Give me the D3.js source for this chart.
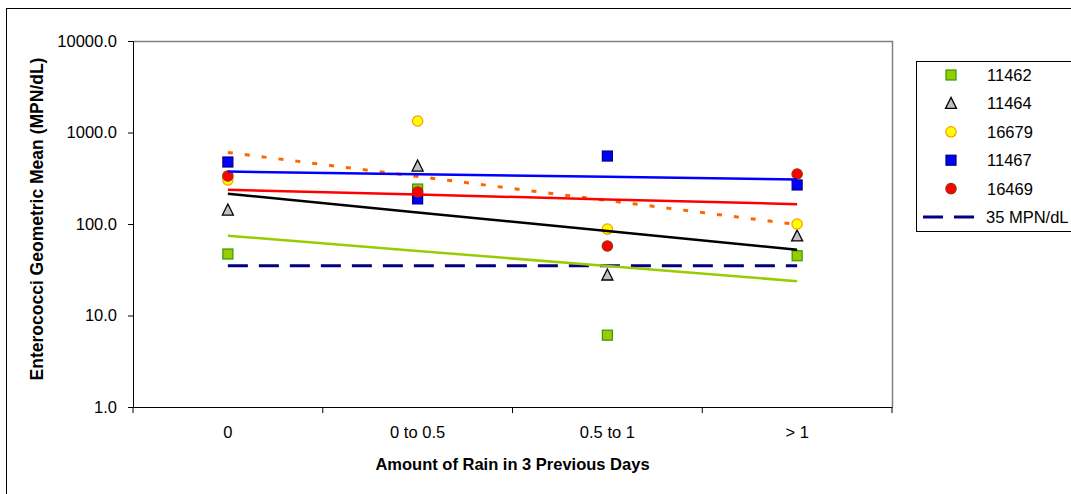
<!DOCTYPE html>
<html>
<head>
<meta charset="utf-8">
<script src="https://cdn.jsdelivr.net/npm/d3@7/dist/d3.min.js"></script>
<style>
  body { margin: 0; background: white; }
  text { font-family: "Liberation Sans", Arial, sans-serif; }
</style>
</head>
<body>
<script>
// values
const categories = ["0", "0 to 0.5", "0.5 to 1", "> 1"];
const stations = ["11462", "11464", "16679", "11467", "16469"];
const s11462 = [47, 241, 6.1, 45];
const s11464 = [142, 430, 27.7, 74];
const s16679 = [303, 1336, 88, 100];
const s11467 = [476, 188, 553, 267];
const s16469 = [335, 224, 57.5, 352];
const standard = [35, 35, 35, 35];
const yTicks = [1, 10, 100, 1000, 10000];

const allSeries = [s11462, s11464, s16679, s11467, s16469];

const looks = [
  { shape: "square", fill: "#99CC00", stroke: "#339900", trend: "#99CC00", dash: null },
  { shape: "triangle", fill: "#C0C0C0", stroke: "#000000", trend: "#000000", dash: null },
  { shape: "circle", fill: "#FFFF00", stroke: "#FF9900", trend: "#FF6600", dash: "5,12" },
  { shape: "square", fill: "#0000FF", stroke: "#000080", trend: "#0000FF", dash: null },
  { shape: "circle", fill: "#FF0000", stroke: "#993300", trend: "#FF0000", dash: null }
];

const svg = d3.select("body").append("svg")
  .attr("width", 1071)
  .attr("height", 494)
  .style("background-color", "white");

// outer chart frame (runs off the right and bottom edge)
svg.append("rect")
  .attr("x", 6.5).attr("y", 8.5)
  .attr("width", 1100).attr("height", 520)
  .attr("fill", "none").attr("stroke", "#000").attr("stroke-width", 1);

const plotL = 133, plotR = 892, plotT = 41, plotB = 407;

const x = d3.scaleBand().domain(categories).range([plotL, plotR]);
const y = d3.scaleLog().domain([1, 10000]).range([plotB, plotT]);
const cx = c => x(c) + x.bandwidth() / 2;

// plot area border (top & right grey)
svg.append("path")
  .attr("d", `M${plotL},${plotT + 0.5}H${plotR + 0.5}V${plotB}`)
  .attr("fill", "none").attr("stroke", "#808080").attr("stroke-width", 1.5);

// y axis
const yAxis = svg.append("g")
  .attr("transform", `translate(${plotL},0)`)
  .call(d3.axisLeft(y).tickValues(yTicks).tickFormat(d3.format(".1f"))
    .tickSize(5).tickSizeOuter(0).tickPadding(11));
yAxis.selectAll("text").attr("font-size", "16.5px").attr("fill", "#000")
  .attr("font-family", "'Liberation Sans', Arial, sans-serif");
yAxis.selectAll("line, path").attr("stroke", "#000");

// x axis (labels at band centres, ticks on band edges)
const xAxis = svg.append("g")
  .attr("transform", `translate(0,${plotB})`)
  .call(d3.axisBottom(x).tickSize(0).tickSizeOuter(0).tickPadding(19));
xAxis.selectAll("text").attr("font-size", "16.5px").attr("fill", "#000")
  .attr("font-family", "'Liberation Sans', Arial, sans-serif");
xAxis.select("path").attr("stroke", "#000");
xAxis.selectAll(".edge")
  .data(d3.range(categories.length + 1))
  .enter().append("line")
  .attr("class", "edge")
  .attr("x1", i => plotL + i * x.step()).attr("x2", i => plotL + i * x.step())
  .attr("y1", 0).attr("y2", 6)
  .attr("stroke", "#000");

// axis titles
svg.append("text")
  .attr("x", (plotL + plotR) / 2)
  .attr("y", 470)
  .attr("text-anchor", "middle")
  .attr("font-size", "16.5px")
  .attr("font-weight", "bold")
  .text("Amount of Rain in 3 Previous Days");

svg.append("text")
  .attr("transform", "translate(43,219) rotate(-90)")
  .attr("text-anchor", "middle")
  .attr("font-size", "17.5px")
  .attr("font-weight", "bold")
  .text("Enterococci Geometric Mean (MPN/dL)");

// 35 MPN/dL standard line
const line = d3.line().x((d, i) => cx(categories[i])).y(d => y(d));
svg.append("path")
  .datum(standard)
  .attr("d", line)
  .attr("fill", "none")
  .attr("stroke", "#000080")
  .attr("stroke-width", 3)
  .attr("stroke-dasharray", "20,11");

function marker(g, shape, fill, stroke) {
  if (shape === "square") {
    g.append("rect").attr("x", -5).attr("y", -5).attr("width", 10).attr("height", 10)
      .attr("fill", fill).attr("stroke", stroke).attr("stroke-width", 1.2);
  } else if (shape === "triangle") {
    g.append("path").attr("d", "M0,-6L5.5,5L-5.5,5Z")
      .attr("fill", fill).attr("stroke", stroke).attr("stroke-width", 1.3);
  } else {
    g.append("circle").attr("r", 5.2)
      .attr("fill", fill).attr("stroke", stroke).attr("stroke-width", 1.2);
  }
}

// points
allSeries.forEach((vals, k) => {
  const lk = looks[k];
  vals.forEach((v, i) => {
    const g = svg.append("g").attr("transform", `translate(${cx(categories[i])},${y(v)})`);
    marker(g, lk.shape, lk.fill, lk.stroke);
  });
});

// exponential trend lines (least squares on ln values, like the spreadsheet)
allSeries.forEach((vals, k) => {
  const xs = vals.map((v, i) => i + 1);
  const ls = vals.map(v => Math.log(v));
  const mx = d3.mean(xs), ml = d3.mean(ls);
  const b = d3.sum(xs, (xv, i) => (xv - mx) * (ls[i] - ml)) / d3.sum(xs, xv => (xv - mx) * (xv - mx));
  const a = ml - b * mx;
  const fit = xs.map(xv => Math.exp(a + b * xv));
  svg.append("path")
    .datum(fit)
    .attr("d", line)
    .attr("fill", "none")
    .attr("stroke", looks[k].trend)
    .attr("stroke-width", looks[k].dash ? 3 : 2.5)
    .attr("stroke-dasharray", looks[k].dash);
});

// legend
const legend = svg.append("g");
legend.append("rect")
  .attr("x", 916.5).attr("y", 61.5)
  .attr("width", 170).attr("height", 170)
  .attr("fill", "white").attr("stroke", "#000").attr("stroke-width", 1);

const rowY = i => 75 + i * 28.4;
stations.forEach((name, k) => {
  const g = legend.append("g").attr("transform", `translate(951,${rowY(k)})`);
  marker(g, looks[k].shape, looks[k].fill, looks[k].stroke);
  legend.append("text")
    .attr("x", 987).attr("y", rowY(k) + 6)
    .attr("font-size", "16.5px")
    .text(name);
});
legend.append("line")
  .attr("x1", 923).attr("x2", 974)
  .attr("y1", rowY(5)).attr("y2", rowY(5))
  .attr("stroke", "#000080").attr("stroke-width", 3)
  .attr("stroke-dasharray", "20,11");
legend.append("text")
  .attr("x", 986).attr("y", rowY(5) + 6)
  .attr("font-size", "16.5px")
  .text("35 MPN/dL");
</script>
</body>
</html>
